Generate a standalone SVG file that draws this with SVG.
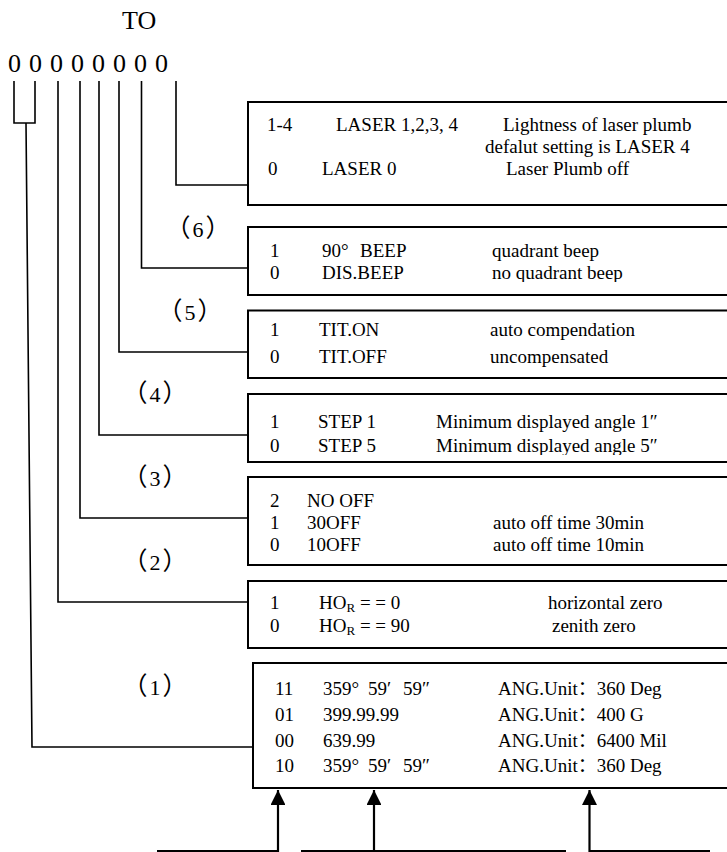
<svg xmlns="http://www.w3.org/2000/svg" width="727" height="852" viewBox="0 0 727 852">
<style>
text{font-family:"Liberation Serif","Noto Sans CJK SC",serif;fill:#000}
.t{font-size:19px}
.big{font-size:26px}
.lbl{font-size:22px;text-anchor:middle}
.p{font-size:25px}
.box{fill:#fff;stroke:#000;stroke-width:2}
.ln{fill:none;stroke:#000;stroke-width:1.6}
.ar{fill:none;stroke:#000;stroke-width:2.2}
</style>
<defs>
<marker id="ah" viewBox="0 0 10 10" refX="10" refY="5" markerWidth="6.8" markerHeight="6.8" markerUnits="strokeWidth" orient="auto"><path d="M0,0 L10,5 L0,10 Z" fill="#000"/></marker>
<clipPath id="c2"><rect x="248" y="227" width="490" height="55"/></clipPath>
<clipPath id="c4"><rect x="248" y="394" width="490" height="61"/></clipPath>
</defs>
<g id="header">
<text class="big" x="122" y="29">TO</text>
<text class="big" x="8" y="72" word-spacing="1.5">0 0 0 0 0 0 0 0</text>
</g>
<g id="labels">
<text class="lbl" x="198" y="237"><tspan class="p">（</tspan><tspan dx="2">6</tspan><tspan class="p" dx="2">）</tspan></text>
<text class="lbl" x="190" y="320"><tspan class="p">（</tspan><tspan dx="2">5</tspan><tspan class="p" dx="2">）</tspan></text>
<text class="lbl" x="155" y="402"><tspan class="p">（</tspan><tspan dx="2">4</tspan><tspan class="p" dx="2">）</tspan></text>
<text class="lbl" x="155" y="486"><tspan class="p">（</tspan><tspan dx="2">3</tspan><tspan class="p" dx="2">）</tspan></text>
<text class="lbl" x="155" y="570"><tspan class="p">（</tspan><tspan dx="2">2</tspan><tspan class="p" dx="2">）</tspan></text>
<text class="lbl" x="155" y="695"><tspan class="p">（</tspan><tspan dx="2">1</tspan><tspan class="p" dx="2">）</tspan></text>
</g>
<g id="connectors">
<path class="ln" d="M14,81 V123 H35 V81"/>
<path class="ln" d="M26,123 L32,747 H253"/>
<path class="ln" d="M58,81 V602 H248"/>
<path class="ln" d="M80,81 V518 H248"/>
<path class="ln" d="M99,81 V435 H248"/>
<path class="ln" d="M119,81 V352 H248"/>
<path class="ln" d="M141.5,81 V268 H248"/>
<path class="ln" d="M176,81 V185 H248"/>
<path class="ar" d="M157,851 H278 V790" marker-end="url(#ah)"/>
<path class="ar" d="M301,851 H566 M374,851 V790" marker-end="url(#ah)"/>
<path class="ar" d="M710,851 H589.5 V790" marker-end="url(#ah)"/>
</g>
<g id="laser">
<rect class="box" x="248" y="102" width="490" height="103"/>
<text class="t" x="267" y="131">1-4</text>
<text class="t" x="336" y="131">LASER 1,2,3, 4</text>
<text class="t" x="503" y="131">Lightness of laser plumb</text>
<text class="t" x="485" y="153">defalut setting is LASER 4</text>
<text class="t" x="268" y="175">0</text>
<text class="t" x="322" y="175">LASER 0</text>
<text class="t" x="506" y="175">Laser Plumb off</text>
</g>
<g id="beep">
<rect class="box" x="248" y="227" width="490" height="68"/>
<g clip-path="url(#c2)">
<text class="t" x="270" y="257">1</text>
<text class="t" x="322" y="257">90°<tspan x="360">BEEP</tspan></text>
<text class="t" x="492" y="257">quadrant beep</text>
<text class="t" x="270" y="279">0</text>
<text class="t" x="322" y="279">DIS.BEEP</text>
<text class="t" x="492" y="279">no quadrant beep</text>
</g>
</g>
<g id="tilt">
<rect class="box" x="248" y="310.5" width="490" height="67.5"/>
<text class="t" x="270" y="335.5">1</text>
<text class="t" x="319" y="335.5">TIT.ON</text>
<text class="t" x="490" y="335.5">auto compendation</text>
<text class="t" x="270" y="363">0</text>
<text class="t" x="319" y="363">TIT.OFF</text>
<text class="t" x="490" y="363">uncompensated</text>
</g>
<g id="step">
<rect class="box" x="248" y="394" width="490" height="68"/>
<g clip-path="url(#c4)">
<text class="t" x="270" y="428">1</text>
<text class="t" x="318" y="428">STEP 1</text>
<text class="t" x="436" y="428">Minimum displayed angle 1″</text>
<text class="t" x="270" y="452">0</text>
<text class="t" x="318" y="452">STEP 5</text>
<text class="t" x="436" y="452">Minimum displayed angle 5″</text>
</g>
</g>
<g id="autooff">
<rect class="box" x="248" y="477" width="490" height="88"/>
<text class="t" x="270" y="506.5">2</text>
<text class="t" x="307" y="506.5">NO OFF</text>
<text class="t" x="270" y="529">1</text>
<text class="t" x="307" y="529">30OFF</text>
<text class="t" x="493" y="529">auto off time 30min</text>
<text class="t" x="270" y="551">0</text>
<text class="t" x="307" y="551">10OFF</text>
<text class="t" x="493" y="551">auto off time 10min</text>
</g>
<g id="hor">
<rect class="box" x="248" y="581" width="490" height="67"/>
<text class="t" x="270" y="609">1</text>
<text class="t" x="319" y="609">HO<tspan font-size="13" dy="3">R</tspan><tspan dy="-3"> = = 0</tspan></text>
<text class="t" x="548" y="609">horizontal zero</text>
<text class="t" x="270" y="632">0</text>
<text class="t" x="319" y="632">HO<tspan font-size="13" dy="3">R</tspan><tspan dy="-3"> = = 90</tspan></text>
<text class="t" x="552" y="632">zenith zero</text>
</g>
<g id="angunit">
<rect class="box" x="253" y="663" width="490" height="125"/>
<text class="t" x="275" y="695">11</text>
<text class="t" x="323" y="695">359°<tspan x="368">59′</tspan><tspan x="403">59″</tspan></text>
<text class="t" x="498" y="695">ANG.Unit：360 Deg</text>
<text class="t" x="275" y="721">01</text>
<text class="t" x="323" y="721">399.99.99</text>
<text class="t" x="498" y="721">ANG.Unit：400 G</text>
<text class="t" x="275" y="746.5">00</text>
<text class="t" x="323" y="746.5">639.99</text>
<text class="t" x="498" y="746.5">ANG.Unit：6400 Mil</text>
<text class="t" x="275" y="772">10</text>
<text class="t" x="323" y="772">359°<tspan x="368">59′</tspan><tspan x="403">59″</tspan></text>
<text class="t" x="498" y="772">ANG.Unit：360 Deg</text>
</g>
</svg>
